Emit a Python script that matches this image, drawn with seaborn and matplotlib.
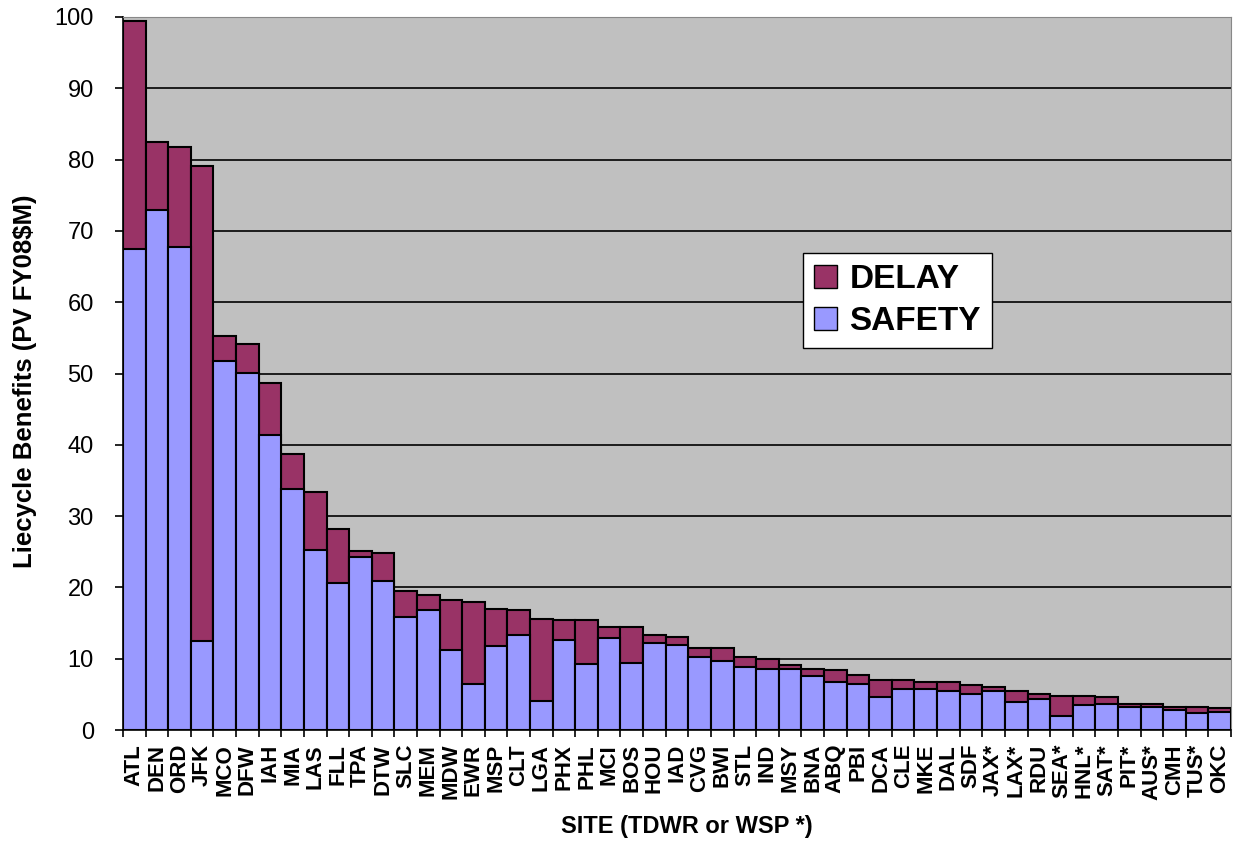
import matplotlib
matplotlib.use('Agg')
import matplotlib.pyplot as plt
import pandas as pd
import seaborn as sns
from matplotlib.patches import Patch
from matplotlib.ticker import FixedLocator, MultipleLocator

#=====Data=====
sites = ['ATL', 'DEN', 'ORD', 'JFK', 'MCO', 'DFW', 'IAH', 'MIA', 'LAS', 'FLL',
         'TPA', 'DTW', 'SLC', 'MEM', 'MDW', 'EWR', 'MSP', 'CLT', 'LGA', 'PHX',
         'PHL', 'MCI', 'BOS', 'HOU', 'IAD', 'CVG', 'BWI', 'STL', 'IND', 'MSY',
         'BNA', 'ABQ', 'PBI', 'DCA', 'CLE', 'MKE', 'DAL', 'SDF', 'JAX*', 'LAX*',
         'RDU', 'SEA*', 'HNL*', 'SAT*', 'PIT*', 'AUS*', 'CMH', 'TUS*', 'OKC']

safety = [67.5, 72.9, 67.7, 12.5, 51.8, 50.1, 41.4, 33.8, 25.2, 20.6,
          24.3, 20.9, 15.8, 16.8, 11.2, 6.5, 11.8, 13.3, 4.1, 12.6,
          9.3, 12.9, 9.4, 12.2, 11.9, 10.3, 9.7, 8.8, 8.6, 8.6,
          7.6, 6.8, 6.5, 4.6, 5.7, 5.7, 5.5, 5.1, 5.5, 4.0,
          4.3, 2.0, 3.5, 3.7, 3.2, 3.2, 2.8, 2.4, 2.6]

delay = [31.9, 9.5, 14.1, 66.6, 3.4, 4.0, 7.2, 4.9, 8.2, 7.6,
         0.8, 4.0, 3.7, 2.2, 7.0, 11.5, 5.2, 3.5, 11.5, 2.8,
         6.1, 1.6, 5.1, 1.2, 1.2, 1.2, 1.8, 1.4, 1.4, 0.5,
         1.0, 1.6, 1.2, 2.4, 1.3, 1.1, 1.3, 1.2, 0.6, 1.5,
         0.7, 2.8, 1.3, 0.9, 0.5, 0.5, 0.5, 0.9, 0.5]

df = pd.DataFrame({'site': sites, 'safety': safety, 'delay': delay})
df['total'] = df['safety'] + df['delay']

delay_color = '#993366'
safety_color = '#9999FF'

#=====Plot=====
plt.rcParams['font.family'] = ['Liberation Sans', 'DejaVu Sans']
fig = plt.figure(figsize=(12.36, 8.46), dpi=100)
ax = fig.add_axes([0.0995, 0.137, 0.8965, 0.843])
ax.set_facecolor('#C0C0C0')

# total bar (delay on top) then safety drawn over it
sns.barplot(data=df, x='site', y='total', color=delay_color, width=1.0,
            edgecolor='black', linewidth=1.5, saturation=1, ax=ax, zorder=3)
sns.barplot(data=df, x='site', y='safety', color=safety_color, width=1.0,
            edgecolor='black', linewidth=1.5, saturation=1, ax=ax, zorder=3)

ax.set_xlim(-0.5, len(sites) - 0.5)
ax.set_ylim(0, 100)
ax.yaxis.set_major_locator(MultipleLocator(10))
ax.grid(axis='y', color='black', linewidth=1.2, zorder=0)
ax.set_axisbelow(True)

# x tick marks sit between the bars
ax.xaxis.set_minor_locator(FixedLocator([i - 0.5 for i in range(len(sites) + 1)]))
ax.tick_params(axis='x', which='major', length=0, pad=10)
ax.tick_params(axis='x', which='minor', length=5, width=1.2, color='black')
ax.tick_params(axis='y', length=6, width=1.2, pad=15)
plt.xticks(rotation=90, fontsize=16, fontweight='bold')
plt.yticks(fontsize=17)

for side in ['top', 'right']:
    ax.spines[side].set_color('#888888')
ax.spines['left'].set_color('black')
ax.spines['left'].set_linewidth(1.2)
ax.spines['bottom'].set_color('black')
ax.spines['bottom'].set_linewidth(1.2)

ax.set_xlabel('SITE (TDWR or WSP *)', fontsize=17, fontweight='bold')
ax.xaxis.set_label_coords(0.509, -0.119)
ax.set_ylabel('Liecycle Benefits (PV FY08$M)', fontsize=18.5, fontweight='bold')
ax.yaxis.set_label_coords(-0.078, 0.489)

handles = [Patch(facecolor=delay_color, edgecolor='black', label='DELAY'),
           Patch(facecolor=safety_color, edgecolor='black', label='SAFETY')]
leg = ax.legend(handles=handles, loc='upper left', bbox_to_anchor=(0.6137, 0.669),
                prop={'size': 24, 'weight': 'bold'}, fancybox=False, framealpha=1,
                edgecolor='black', handlelength=0.7, handleheight=0.7,
                handletextpad=0.36, borderpad=0.33, labelspacing=0.33,
                borderaxespad=0)
leg.get_frame().set_linewidth(1.0)

plt.savefig('out.png', dpi=100)
print("Saved: out.png")
